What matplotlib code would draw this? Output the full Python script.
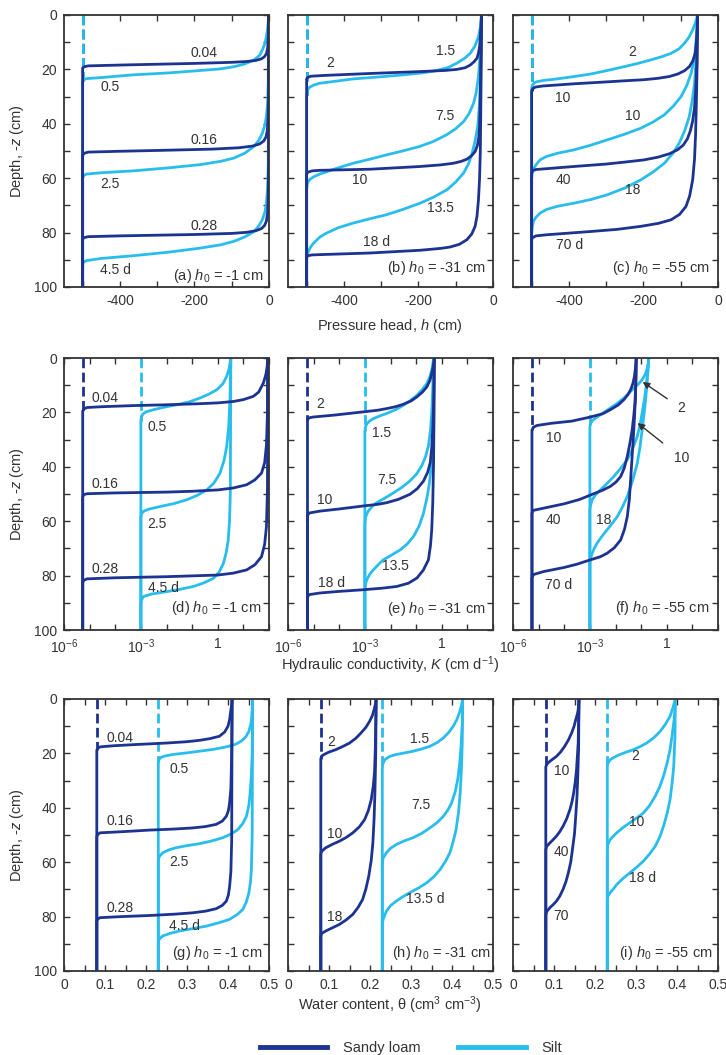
import matplotlib
matplotlib.use("Agg")
from matplotlib import pyplot as plt
from matplotlib.lines import Line2D

# ---------------- data ----------------
# each curve runs from the wetting front (first point, at the initial value) up to the surface (z = 0)
# K is read on the log axis, so it is kept as log10(K)

# (a) pressure head h (cm), h0 = -1 cm
a_sl_times = ["0.04", "0.16", "0.28"]
a_sl_h = [[-500, -495, -485, -400, -200, -100, -60, -35, -20, -12, -7, -4, -2.5, -1.5, -1],
          [-500, -495, -485, -400, -300, -150, -80, -45, -25, -14, -8, -4.5, -2.5, -1.5, -1],
          [-500, -495, -485, -400, -200, -100, -60, -35, -20, -12, -7, -4, -2.5, -1.5, -1]]
a_sl_z = [[19.5, 19.0, 18.7, 18.4, 17.8, 17.4, 17.1, 16.7, 16.1, 15.3, 14.2, 12.5, 10, 6, 0],
          [51.5, 50.8, 50.4, 50.1, 49.8, 49.3, 48.8, 48.2, 47.4, 46.3, 44.8, 42.5, 38, 30, 0],
          [82.3, 81.8, 81.5, 81.2, 80.7, 80.3, 79.9, 79.3, 78.5, 77.4, 75.8, 73, 69, 60, 0]]
a_si_times = ["0.5", "2.5", "4.5 d"]
a_si_h = [[-500, -497, -490, -450, -364, -270, -184, -130, -94, -65, -40, -25, -18, -11, -7, -4, -2, -1],
          [-500, -497, -490, -450, -364, -270, -184, -130, -94, -65, -40, -27, -18, -11, -7, -4, -2, -1],
          [-500, -497, -490, -450, -364, -270, -184, -130, -94, -65, -40, -27, -18, -11, -7, -4, -2, -1]]
a_si_z = [[24.5, 23.8, 23.4, 23, 22, 21.3, 20.4, 19.8, 19, 18, 16.5, 14.8, 12.9, 10.5, 8, 5, 2.5, 0],
          [60, 59, 58.5, 58, 57.3, 56.2, 55, 53.8, 52.6, 50.8, 48.3, 46, 43.5, 40.5, 37.3, 33, 25, 0],
          [91.8, 90.8, 90.3, 89.5, 88.5, 87.2, 85.7, 84.5, 83.2, 81.6, 79.6, 77.5, 75.3, 72.5, 69.2, 64, 55, 0]]

# (b) pressure head h (cm), h0 = -31 cm
b_sl_times = ["2", "10", "18 d"]
b_sl_h = [[-500, -497, -488, -450, -330, -196, -130, -97, -75, -61, -51, -43, -39, -36, -34, -32, -31],
          [-500, -497, -485, -465, -330, -196, -140, -106, -85, -70, -58, -48, -42, -38, -36, -34, -32, -31],
          [-500, -497, -485, -465, -330, -196, -140, -115, -90, -70, -57, -48, -43, -39, -36, -34, -32, -31]]
b_sl_z = [[23.5, 22.9, 22.5, 22.2, 21.5, 20.8, 20.4, 20, 19.4, 18.4, 17.2, 15.9, 14, 11.6, 8, 4, 0],
          [58.5, 57.8, 57.3, 57.1, 56.7, 55.7, 55.1, 54.5, 53.8, 53, 51.8, 50.2, 48, 45, 41, 30, 12, 0],
          [89, 88.5, 88.2, 88.1, 87.5, 86.5, 85.8, 85.3, 84.3, 82.6, 80.5, 77.7, 74, 68, 60, 50, 25, 0]]
b_si_times = ["1.5", "7.5", "13.5"]
b_si_h = [[-500, -498, -495, -490, -480, -465, -420, -375, -300, -240, -190, -151, -120, -97, -77, -61,
           -49, -39, -34, -31],
          [-500, -498, -495, -490, -480, -465, -420, -375, -330, -285, -240, -196, -160, -124, -100, -79,
           -64, -52, -45, -39, -35, -32, -31],
          [-500, -498, -494, -488, -478, -465, -447, -415, -375, -330, -285, -240, -196, -160, -124, -100,
           -79, -66, -56, -48, -41, -37, -34, -32, -31]]
b_si_z = [[30, 28, 27, 26.4, 25.7, 25.1, 24.3, 23.5, 22.7, 22, 21.3, 20.4, 19.3, 17.7, 16, 14.1,
           11.5, 8, 4.5, 0],
          [64, 62, 61, 60.3, 59.4, 58.5, 56.4, 54.5, 53, 51.4, 49.9, 48.3, 46.5, 44, 41.8, 39.2,
           36.2, 32.4, 28.5, 22.6, 15, 7, 0],
          [90, 88, 86.5, 85, 83.4, 81.7, 80.2, 78.2, 76.5, 74.9, 73.4, 71.4, 69.2, 67, 64.3, 61.4,
           58.1, 54.8, 50.8, 46.3, 41, 34, 25, 12, 0]]

# (c) pressure head h (cm), h0 = -55 cm
c_sl_times = ["10", "40", "70 d"]
c_sl_h = [[-500, -497, -490, -470, -387, -300, -252, -200, -162, -130, -108, -90, -77, -68, -61, -58, -56, -55],
          [-500, -497, -488, -460, -387, -300, -252, -200, -162, -130, -108, -93, -82, -74, -68, -63, -60,
           -57, -56, -55],
          [-500, -497, -488, -460, -342, -270, -207, -160, -126, -103, -86, -76, -68, -63, -60, -58, -56, -55]]
c_sl_z = [[28, 27.1, 26.5, 26.1, 25.3, 24.6, 24.2, 23.8, 23.3, 22.6, 21.7, 20.5, 19, 17, 14.1, 10, 5, 0],
          [58, 57.2, 56.8, 56.5, 55.7, 54.8, 54.1, 53.3, 52.3, 51, 49.5, 47.8, 45.5, 42.5, 39, 34, 28,
           18, 10, 0],
          [82.5, 81.8, 81.2, 80.8, 79.6, 78.8, 77.7, 76.6, 75.3, 73.3, 70.4, 66.5, 60.6, 53, 43.5, 32, 18, 0]]
c_si_times = ["2", "10", "18"]
c_si_h = [[-500, -498, -493, -486, -465, -432, -390, -342, -300, -252, -215, -180, -150, -126, -105, -90,
           -78, -68, -61, -55],
          [-500, -498, -495, -488, -477, -460, -430, -387, -340, -297, -250, -207, -175, -144, -120, -99,
           -84, -72, -65, -61, -58, -56, -55],
          [-500, -498, -495, -488, -477, -460, -430, -387, -340, -297, -250, -207, -175, -144, -122, -104,
           -89, -77, -69, -63, -59, -56, -55]]
c_si_z = [[27, 25.8, 25, 24.5, 24, 23.5, 22.7, 21.7, 20.5, 19, 17.8, 16.5, 15.3, 14.1, 12.5, 10.4,
           8.2, 5.5, 3, 0],
          [60, 58, 56.6, 55, 53.2, 52, 50.8, 49.6, 47.8, 45.9, 43.8, 41.6, 39.4, 36.7, 33.5, 30,
           26, 21.4, 17, 12.9, 8, 4, 0],
          [80, 77.5, 75.8, 74.3, 72.8, 71.5, 70.3, 69.2, 67.8, 66.1, 63.6, 60.6, 57.8, 54.5, 51, 47.1,
           42.4, 37.3, 31.4, 25.1, 17, 8, 0]]

# (d) log10 K (cm/d), h0 = -1 cm
d_sl_logK = [[-5.27, -5.22, -5.1, -4.5, -3.3, -2, -0.69, 0, 0.6, 1.0, 1.39, 1.6, 1.78, 1.88, 1.93, 1.95],
             [-5.27, -5.22, -5.1, -4, -2, -1, 0, 0.6, 1.13, 1.45, 1.71, 1.83, 1.9, 1.94, 1.95],
             [-5.27, -5.22, -5.1, -4, -2, -1, 0, 0.6, 1.13, 1.45, 1.71, 1.83, 1.9, 1.94, 1.95]]
d_sl_z = [[19.5, 18.7, 18.2, 17.9, 17.5, 17.2, 16.8, 16.5, 16, 15.3, 14.1, 12.5, 9.2, 6, 3, 0],
          [51, 50.2, 49.9, 49.6, 49.3, 49, 48.5, 47.8, 46.6, 44.8, 42.3, 38.5, 32, 20, 0],
          [82.5, 81.7, 81.2, 80.8, 80.4, 80.1, 79.8, 79.1, 77.9, 76, 73, 68.5, 62, 48, 0]]
d_si_logK = [[-3, -2.98, -2.92, -2.8, -2.5, -2.1, -1.6, -1.1, -0.69, -0.35, -0.04, 0.2, 0.35, 0.44, 0.48, 0.51],
             [-3, -2.98, -2.9, -2.7, -2.25, -1.7, -1.2, -0.8, -0.43, -0.15, 0.09, 0.25, 0.35, 0.43, 0.48, 0.51],
             [-3, -2.98, -2.9, -2.6, -2, -1.45, -0.95, -0.55, -0.17, 0.05, 0.22, 0.33, 0.41, 0.46, 0.49, 0.51]]
d_si_z = [[23, 21.8, 20.6, 19.8, 19, 18.1, 17.2, 16.1, 14.7, 13.3, 11.7, 9.5, 6.7, 4, 1.8, 0],
          [58.5, 57.3, 56.4, 55.6, 54.6, 53.5, 52.1, 50.5, 48.5, 46, 42.3, 37.5, 32.5, 25, 14, 0],
          [90.5, 89, 87.7, 86.8, 85.9, 85, 84, 82.7, 81, 78.8, 75.5, 71.5, 66.9, 60, 50, 0]]

# (e) log10 K (cm/d), h0 = -31 cm
e_sl_logK = [[-5.24, -5.18, -5.02, -4.2, -3.06, -2.5, -2.15, -1.8, -1.5, -1.2, -0.97, -0.75, -0.58, -0.46,
              -0.39, -0.33, -0.29],
             [-5.24, -5.18, -4.76, -4, -3.06, -2.5, -2.15, -1.7, -1.24, -0.95, -0.71, -0.55, -0.45, -0.39,
              -0.35, -0.31, -0.29],
             [-5.24, -5.18, -4.76, -4, -3.06, -2.3, -1.76, -1.3, -0.97, -0.72, -0.52, -0.44, -0.39, -0.35,
              -0.32, -0.3, -0.29]]
e_sl_z = [[22.8, 22.0, 21.7, 21, 19.8, 19.2, 18.6, 17.9, 17, 15.8, 14.3, 12.5, 10.6, 8.2, 5.7, 3, 0],
          [58, 57, 56.3, 55.5, 54.4, 53.8, 53.2, 52, 50.1, 48, 45.2, 42, 38.5, 33, 26, 14, 0],
          [88, 87, 86.4, 85.8, 85.2, 84.6, 84, 82.8, 80.9, 78, 74.2, 69, 63, 53, 38.5, 20, 0]]
e_si_logK = [[-3, -2.98, -2.93, -2.82, -2.67, -2.45, -2.15, -1.8, -1.5, -1.22, -0.97, -0.76, -0.58, -0.47,
              -0.39, -0.35, -0.32],
             [-3, -2.98, -2.94, -2.87, -2.72, -2.54, -2.2, -1.89, -1.55, -1.24, -0.98, -0.78, -0.63, -0.52,
              -0.44, -0.39, -0.35, -0.32],
             [-3, -2.98, -2.95, -2.9, -2.8, -2.67, -2.48, -2.28, -1.95, -1.63, -1.35, -1.1, -0.88, -0.71,
              -0.58, -0.48, -0.41, -0.37, -0.34, -0.32]]
e_si_z = [[27, 25.5, 24.3, 23.2, 22.3, 21.4, 20.4, 19, 17.4, 15.6, 13.7, 11.6, 9.4, 7, 4.4, 2.2, 0],
          [61.5, 59, 57.6, 56.3, 54.6, 53.2, 51.4, 49.6, 47.5, 45.2, 42.6, 39.6, 36.2, 32.3, 26.5, 20, 11, 0],
          [85.5, 83.5, 82.3, 81, 79.4, 77.9, 76, 74.2, 72.4, 70.6, 68.4, 65.6, 61.7, 57, 51.5, 46, 39.5,
           32.5, 20, 0]]

# (f) log10 K (cm/d), h0 = -55 cm
f_sl_logK = [[-5.26, -5.2, -5.06, -4.5, -3.7, -2.98, -2.5, -2.2, -1.9, -1.67, -1.52, -1.41, -1.32, -1.26,
              -1.22, -1.19],
             [-5.26, -5.2, -4.8, -4, -3.4, -2.85, -2.5, -2.2, -1.98, -1.8, -1.66, -1.54, -1.44, -1.35, -1.29,
              -1.24, -1.21, -1.19],
             [-5.26, -5.2, -4.8, -4, -3.5, -2.98, -2.6, -2.33, -2.05, -1.8, -1.65, -1.54, -1.46, -1.41, -1.36,
              -1.31, -1.26, -1.22, -1.2, -1.19]]
f_sl_z = [[26.5, 25.4, 24.8, 24, 23.2, 21.7, 20.5, 19, 17.3, 15.3, 13.5, 11.7, 9.3, 6.7, 3.5, 0],
          [57, 56, 55.2, 53.6, 52, 49.9, 48.6, 47.2, 45.6, 43.6, 40.5, 36.2, 31.5, 26.4, 21.5, 16.6, 9, 0],
          [80.8, 79.6, 78.5, 77, 75.8, 74.2, 73.1, 71.8, 69.8, 66.9, 63, 58.3, 52, 44.8, 37.5, 30.1, 22,
           14.1, 7, 0]]
f_si_logK = [[-3, -2.98, -2.9, -2.72, -2.45, -2.2, -1.92, -1.67, -1.46, -1.28, -1.1, -0.96, -0.84, -0.76,
              -0.72, -0.7],
             [-3, -2.99, -2.97, -2.91, -2.78, -2.59, -2.35, -2.07, -1.8, -1.54, -1.33, -1.15, -1.04, -0.96,
              -0.86, -0.79, -0.74, -0.7],
             [-3, -2.99, -2.97, -2.91, -2.83, -2.72, -2.55, -2.33, -2.13, -1.93, -1.74, -1.54, -1.34, -1.15,
              -1.04, -0.96, -0.86, -0.79, -0.74, -0.7]]
f_si_z = [[25.5, 24.2, 23, 21.7, 20, 18.4, 16.6, 14.7, 12.8, 11, 9.5, 8, 6, 3.7, 1.8, 0],
          [56, 55, 54, 52.1, 50.3, 48.5, 46.3, 43.6, 40.6, 37.4, 33.3, 28.8, 24.5, 20.2, 14.5, 9.2, 4.5, 0],
          [76, 74.8, 73.5, 71.8, 70, 68.1, 65.8, 63.2, 60.8, 58.3, 55, 50.9, 45.3, 38.7, 32.5, 26.4, 18.5,
           11.7, 5.5, 0]]

# (g) water content, h0 = -1 cm
g_sl_th = [[0.08, 0.083, 0.088, 0.12, 0.167, 0.249, 0.3, 0.33, 0.355, 0.379, 0.392, 0.4, 0.404, 0.407,
            0.409, 0.41],
           [0.08, 0.083, 0.088, 0.14, 0.208, 0.27, 0.314, 0.345, 0.371, 0.386, 0.396, 0.401, 0.404, 0.407,
            0.409, 0.41],
           [0.08, 0.083, 0.088, 0.14, 0.208, 0.27, 0.314, 0.345, 0.371, 0.386, 0.396, 0.401, 0.404, 0.407,
            0.409, 0.41]]
g_sl_z = [[18.8, 18, 17.6, 17.2, 16.8, 16.2, 15.7, 15.2, 14.6, 13.7, 12.1, 10, 7.5, 4, 2, 0],
          [50.5, 49.7, 49.2, 48.8, 48.2, 47.8, 47.4, 46.9, 46.1, 44.9, 43.1, 41, 38, 33, 20, 0],
          [81.6, 80.8, 80.4, 80, 79.6, 79.1, 78.6, 78, 77.1, 75.9, 74.3, 72, 68.8, 63.5, 52, 0]]
g_si_th = [[0.23, 0.231, 0.235, 0.245, 0.265, 0.3, 0.33, 0.365, 0.396, 0.418, 0.432, 0.443, 0.451, 0.456,
            0.458, 0.46],
           [0.23, 0.232, 0.241, 0.255, 0.273, 0.3, 0.33, 0.36, 0.387, 0.408, 0.424, 0.436, 0.445, 0.451,
            0.454, 0.457, 0.459, 0.46],
           [0.23, 0.232, 0.241, 0.258, 0.281, 0.315, 0.347, 0.377, 0.404, 0.422, 0.436, 0.445, 0.451, 0.455,
            0.457, 0.459, 0.46]]
g_si_z = [[23.2, 22.5, 21.6, 21, 20.4, 19.8, 19.2, 18.5, 17.6, 16.7, 15.5, 14, 11.9, 9, 6.4, 0],
          [59.5, 58, 56.5, 55.5, 54.7, 53.9, 53.2, 52.2, 51, 49.6, 48, 45.8, 43.1, 39, 34.5, 28, 20, 0],
          [89.6, 88.3, 87.1, 86.2, 85.3, 84.4, 83.5, 82.3, 81, 79.3, 77.4, 74.5, 71.2, 67, 62.7, 50, 0]]

# (h) water content, h0 = -31 cm
h_sl_th = [[0.08, 0.082, 0.088, 0.1, 0.117, 0.133, 0.15, 0.165, 0.178, 0.19, 0.199, 0.206, 0.21, 0.213, 0.215],
           [0.08, 0.082, 0.092, 0.107, 0.125, 0.142, 0.158, 0.174, 0.187, 0.196, 0.203, 0.208, 0.211, 0.213,
            0.215],
           [0.08, 0.082, 0.092, 0.107, 0.125, 0.142, 0.158, 0.171, 0.182, 0.19, 0.197, 0.203, 0.207, 0.21,
            0.212, 0.214, 0.215]]
h_sl_z = [[22, 21, 20.4, 19.5, 18.6, 17.5, 16.2, 14.5, 12.5, 10.4, 8.2, 6, 3.9, 2, 0],
          [57, 56, 54.7, 53.5, 52.3, 50.9, 49.2, 47, 44.3, 41, 37, 32, 27, 18, 0],
          [87.2, 86.2, 85.3, 84.2, 82.9, 81.2, 79.2, 76.6, 73.7, 69.8, 65.1, 59.3, 52.9, 44, 34.5, 20, 0]]
h_si_th = [[0.23, 0.231, 0.236, 0.248, 0.264, 0.285, 0.305, 0.325, 0.346, 0.364, 0.379, 0.392, 0.403, 0.412,
            0.418, 0.423, 0.426],
           [0.23, 0.232, 0.24, 0.25, 0.264, 0.283, 0.305, 0.326, 0.346, 0.364, 0.379, 0.39, 0.399, 0.408,
            0.414, 0.419, 0.422, 0.425, 0.426],
           [0.23, 0.232, 0.236, 0.24, 0.25, 0.264, 0.28, 0.297, 0.318, 0.338, 0.356, 0.371, 0.384, 0.395,
            0.403, 0.41, 0.416, 0.42, 0.423, 0.425, 0.426]]
h_si_z = [[25.6, 24, 22.3, 21.1, 20.4, 19.8, 19.2, 18.4, 17.4, 16, 14.3, 12.3, 10, 7.5, 5.1, 2.5, 0],
          [60.5, 58.5, 56.5, 54.9, 53.5, 52.2, 51, 49.4, 47.4, 45.4, 43.1, 40.8, 38.2, 34, 29.6, 23.5, 17.4, 9, 0],
          [83, 81, 79.5, 78, 76, 74.3, 72.7, 71.2, 69.5, 67.6, 65.3, 62.7, 59.7, 56.5, 52.3, 48, 41.5, 34.5,
           25.5, 16.2, 0]]

# (i) water content, h0 = -55 cm
i_sl_th = [[0.08, 0.082, 0.09, 0.097, 0.106, 0.116, 0.126, 0.135, 0.143, 0.149, 0.153, 0.157, 0.159, 0.161],
           [0.08, 0.082, 0.09, 0.098, 0.106, 0.114, 0.122, 0.131, 0.139, 0.144, 0.148, 0.152, 0.155, 0.157,
            0.159, 0.161],
           [0.08, 0.082, 0.09, 0.098, 0.106, 0.114, 0.122, 0.129, 0.135, 0.141, 0.145, 0.15, 0.153, 0.156,
            0.158, 0.16, 0.161]]
i_sl_z = [[25, 24, 22.9, 22.1, 21.1, 19.5, 17.4, 15.1, 12.5, 10, 7.6, 5.5, 3.9, 0],
          [55.5, 54.2, 52.9, 51.7, 50.4, 48.8, 46.8, 44, 40.6, 37.7, 34.5, 30.3, 25.9, 21, 16.2, 0],
          [79.5, 78.2, 76.7, 75.6, 74.3, 72.5, 70, 67.2, 63.9, 59.8, 55.3, 49.5, 43.1, 36, 28.4, 18, 0]]
i_si_th = [[0.23, 0.231, 0.237, 0.248, 0.261, 0.277, 0.294, 0.31, 0.326, 0.343, 0.359, 0.372, 0.383, 0.39,
            0.396],
           [0.23, 0.231, 0.237, 0.245, 0.253, 0.268, 0.285, 0.302, 0.318, 0.333, 0.347, 0.358, 0.367, 0.376,
            0.383, 0.388, 0.392, 0.395, 0.396],
           [0.23, 0.231, 0.237, 0.245, 0.253, 0.268, 0.285, 0.302, 0.318, 0.333, 0.347, 0.358, 0.367, 0.376,
            0.383, 0.388, 0.392, 0.395, 0.396]]
i_si_z = [[25, 23.8, 22.3, 21.3, 20.4, 19.5, 18.6, 17.5, 16.2, 14.3, 11.9, 9.2, 6.4, 3.2, 0],
          [55.5, 53.6, 51.7, 50.4, 49.2, 47.3, 45.5, 43.7, 41.9, 39.2, 35.7, 32.2, 28.4, 23.5, 18.6, 13.5,
           8.8, 4, 0],
          [74, 72.6, 71.2, 69.8, 68.2, 66, 63.9, 61.8, 59.6, 57, 54.1, 50.7, 46.8, 42, 37, 31, 24.7, 14, 0]]

panel_titles = ["(a) $h_0$ = -1 cm", "(b) $h_0$ = -31 cm", "(c) $h_0$ = -55 cm",
                "(d) $h_0$ = -1 cm", "(e) $h_0$ = -31 cm", "(f) $h_0$ = -55 cm",
                "(g) $h_0$ = -1 cm", "(h) $h_0$ = -31 cm", "(i) $h_0$ = -55 cm"]

# ---------------- style ----------------
DARK = "#1d3391"
CYAN = "#28bdec"
TXT = "#333333"
LW = 2.0

plt.rcParams["font.family"] = ["Liberation Sans", "DejaVu Sans"]
plt.rcParams["mathtext.fontset"] = "custom"
plt.rcParams["mathtext.rm"] = "Liberation Sans"
plt.rcParams["mathtext.it"] = "Liberation Sans:italic"
plt.rcParams["axes.unicode_minus"] = False

W, H = 726, 1055
fig = plt.figure(figsize=(W / 100, H / 100), dpi=100)

col_left = [64, 288, 513]
row_top = [15, 358, 699]
ax_w, ax_h = 205, 272


def make_ax(r, c):
    return fig.add_axes([col_left[c] / W, 1 - (row_top[r] + ax_h) / H, ax_w / W, ax_h / H])


def draw(ax, sl_x, sl_z, si_x, si_z):
    # initial condition (dashed) above the shallowest front
    ax.plot([sl_x[0][0]] * 2, [0, sl_z[0][0]], color=DARK, lw=LW, dashes=(3.5, 1.6))
    ax.plot([si_x[0][0]] * 2, [0, si_z[0][0]], color=CYAN, lw=LW, dashes=(3.5, 1.6))
    for x, z in zip(si_x, si_z):
        ax.plot([x[0]] + x, [100] + z, color=CYAN, lw=LW, solid_joinstyle="round")
    for x, z in zip(sl_x, sl_z):
        ax.plot([x[0]] + x, [100] + z, color=DARK, lw=LW, solid_joinstyle="round")


def style(ax, col):
    ax.set_ylim(100, 0)
    ax.set_yticks(range(0, 101, 10))
    if col == 0:
        ax.set_yticklabels([str(v) if v % 20 == 0 else "" for v in range(0, 101, 10)])
        ax.set_ylabel("Depth, -$z$ (cm)", fontsize=10.5, color=TXT, labelpad=6)
    else:
        ax.set_yticklabels([])
    ax.tick_params(direction="in", top=True, right=True, length=4, width=1,
                   color=TXT, labelcolor=TXT, labelsize=10, pad=5)
    for s in ax.spines.values():
        s.set_linewidth(1.3)
        s.set_color(TXT)


def label(ax, items):
    for t, x, y in items:
        ax.text(x, y, t, fontsize=10, color=TXT, ha="center", va="center")


def unlog(curves):
    return [[10.0 ** v for v in c] for c in curves]


row1 = [(a_sl_h, a_sl_z, a_si_h, a_si_z), (b_sl_h, b_sl_z, b_si_h, b_si_z),
        (c_sl_h, c_sl_z, c_si_h, c_si_z)]
row2 = [(unlog(d_sl_logK), d_sl_z, unlog(d_si_logK), d_si_z),
        (unlog(e_sl_logK), e_sl_z, unlog(e_si_logK), e_si_z),
        (unlog(f_sl_logK), f_sl_z, unlog(f_si_logK), f_si_z)]
row3 = [(g_sl_th, g_sl_z, g_si_th, g_si_z), (h_sl_th, h_sl_z, h_si_th, h_si_z),
        (i_sl_th, i_sl_z, i_si_th, i_si_z)]

label_pos = [
    [(a_sl_times[0], -175, 14), (a_si_times[0], -426, 26.5), (a_sl_times[1], -175, 46),
     (a_si_times[1], -426, 62), (a_sl_times[2], -175, 77.6), (a_si_times[2], -413, 93.7)],
    [(b_si_times[0], -128, 13.1), (b_sl_times[0], -438, 17.7), (b_si_times[1], -128, 37.3),
     (b_sl_times[1], -357, 60.6), (b_si_times[2], -142, 71), (b_sl_times[2], -312, 83.6)],
    [(c_si_times[0], -230, 13.5), (c_sl_times[0], -416, 30.6), (c_si_times[1], -230, 37.3),
     (c_sl_times[1], -416, 60.6), (c_si_times[2], -230, 64.5), (c_sl_times[2], -398, 84.5)],
    [(a_sl_times[0], 10**-4.4, 14.7), (a_si_times[0], 10**-2.38, 25.5), (a_sl_times[1], 10**-4.4, 46.3),
     (a_si_times[1], 10**-2.38, 61.1), (a_sl_times[2], 10**-4.4, 77.5), (a_si_times[2], 10**-2.12, 84.4)],
    [(b_sl_times[0], 10**-4.76, 16.9), (b_si_times[0], 10**-2.34, 27.4), (b_si_times[1], 10**-2.15, 44.9),
     (b_sl_times[1], 10**-4.56, 52.3), (b_si_times[2], 10**-1.82, 76.4), (b_sl_times[2], 10**-4.3, 82.6)],
    [(c_sl_times[0], 10**-4.41, 29.4), (c_sl_times[1], 10**-4.41, 59.5), (c_si_times[2], 10**-2.46, 59.5),
     (c_sl_times[2], 10**-4.21, 83.4)],
    [(a_sl_times[0], 0.136, 14.3), (a_si_times[0], 0.281, 25.7), (a_sl_times[1], 0.136, 44.7),
     (a_si_times[1], 0.281, 60), (a_sl_times[2], 0.136, 76.7), (a_si_times[2], 0.294, 83.5)],
    [(b_sl_times[0], 0.105, 15.9), (b_si_times[0], 0.322, 14.6), (b_si_times[1], 0.323, 38.8),
     (b_sl_times[1], 0.115, 49.8), (b_si_times[2] + " d", 0.335, 73.7), ("18", 0.115, 80.2)],
    [(c_sl_times[0], 0.118, 26.3), (c_si_times[0], 0.298, 21.1), (c_sl_times[1], 0.118, 56.3),
     (c_si_times[1], 0.302, 45.3), ("70", 0.118, 79.8), (c_si_times[2] + " d", 0.316, 65.7)],
]
title_pos = [(-16, 96), (-21, 93), (-21, 93),
             (10**1.71, 92), (10**1.7, 92.4), (10**1.65, 92),
             (0.485, 93.5), (0.495, 93.5), (0.488, 93.5)]

axes = []
for r, rowdata in enumerate([row1, row2, row3]):
    for c, (sx, sz, ix, iz) in enumerate(rowdata):
        ax = make_ax(r, c)
        axes.append(ax)
        draw(ax, sx, sz, ix, iz)
        style(ax, c)
        if r == 0:
            ax.set_xlim(-550, 0)
            ax.set_xticks(range(-500, 1, 100))
            ax.set_xticklabels(["", "-400", "", "-200", "", "0"])
        elif r == 1:
            ax.set_xscale("log")
            ax.set_xlim(1e-6, 1e2)
            ax.set_xticks([10.0 ** k for k in range(-6, 3)])
            ax.set_xticklabels(["10$^{-6}$", "", "", "10$^{-3}$", "", "", "1", "", ""])
            ax.xaxis.set_minor_locator(matplotlib.ticker.NullLocator())
        else:
            ax.set_xlim(0, 0.5)
            ax.set_xticks([k * 0.05 for k in range(11)])
            ax.set_xticklabels(["0" if k == 0 else ("%.1f" % (k * 0.05) if k % 2 == 0 else "")
                                for k in range(11)])
        k = r * 3 + c
        label(ax, label_pos[k])
        tx, ty = title_pos[k]
        ax.text(tx, ty, panel_titles[k], fontsize=10.5, color=TXT, ha="right", va="center")

# arrows in panel (f)
ax_f = axes[5]
ax_f.annotate(c_si_times[0], xy=(10**-0.94, 8.8), xytext=(10**0.55, 18.4), fontsize=10, color=TXT,
              ha="center", va="center",
              arrowprops=dict(arrowstyle="-|>", color="#333333", lw=1.0, shrinkB=0, shrinkA=6,
                              mutation_scale=10))
ax_f.annotate(c_si_times[1], xy=(10**-1.14, 23.9), xytext=(10**0.59, 36.8), fontsize=10, color=TXT,
              ha="center", va="center",
              arrowprops=dict(arrowstyle="-|>", color="#333333", lw=1.0, shrinkB=0, shrinkA=8,
                              mutation_scale=10))

fig.text(390 / W, 1 - 326 / H, "Pressure head, $h$ (cm)", fontsize=10.5, color=TXT,
         ha="center", va="center")
fig.text(390 / W, 1 - 665 / H, "Hydraulic conductivity, $K$ (cm d$^{-1}$)", fontsize=10.5,
         color=TXT, ha="center", va="center")
fig.text(390 / W, 1 - 1005 / H, "Water content, \u03b8 (cm$^3$ cm$^{-3}$)", fontsize=10.5,
         color=TXT, ha="center", va="center")

handles = [Line2D([], [], color=DARK, lw=3.5), Line2D([], [], color=CYAN, lw=3.5)]
fig.legend(handles, ["Sandy loam", "Silt"], loc="center", bbox_to_anchor=(411 / W, 1 - 1048 / H),
           ncol=2, frameon=False, fontsize=10.5, handlelength=4.6, handletextpad=1.1,
           columnspacing=2.6, labelcolor=TXT)

fig.savefig("out.png", dpi=100)
